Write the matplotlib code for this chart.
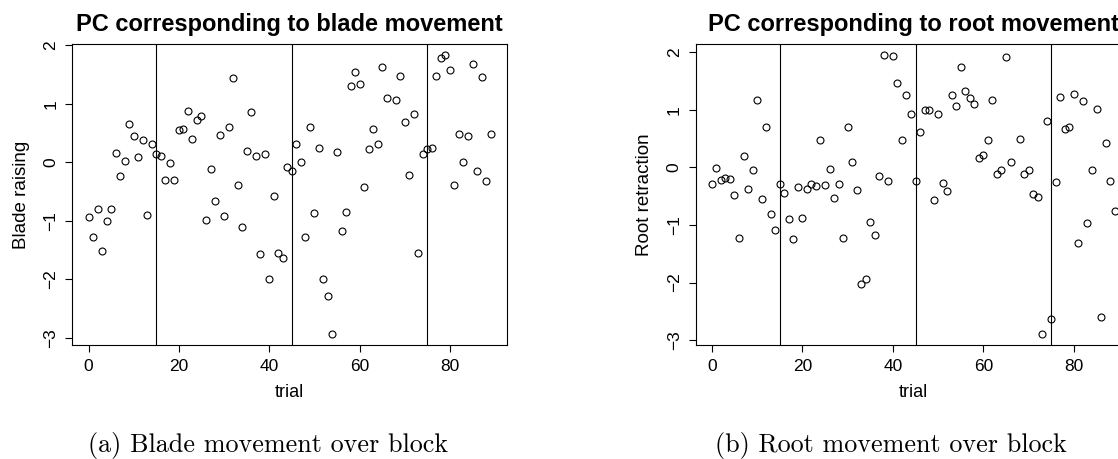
import numpy as np
import matplotlib.pyplot as plt

nan = np.nan

# PC scores per trial (trial 67 missing)
blade = [-0.93, -1.28, -0.80, -1.51, -1.00, -0.80, 0.16, -0.23, 0.02, 0.65,
         0.45, 0.09, 0.38, -0.90, 0.32, 0.14, 0.11, -0.31, -0.01, -0.30,
         0.55, 0.57, 0.87, 0.39, 0.72, 0.79, -0.98, -0.11, -0.66, 0.46,
         -0.92, 0.60, 1.44, -0.38, -1.10, 0.20, 0.86, 0.10, -1.57, 0.14,
         -1.99, -0.58, -1.55, -1.63, -0.08, -0.15, 0.32, 0.00, -1.28, 0.60,
         -0.86, 0.24, -2.00, -2.29, -2.93, 0.17, -1.18, -0.85, 1.30, 1.54,
         1.33, -0.43, 0.23, 0.57, 0.31, 1.62, 1.10, nan, 1.07, 1.47,
         0.69, -0.22, 0.82, -1.55, 0.14, 0.23, 0.24, 1.48, 1.78, 1.83,
         1.58, -0.39, 0.48, 0.00, 0.45, 1.67, -0.15, 1.46, -0.32, 0.49]

root = [-0.28, -0.01, -0.21, -0.18, -0.20, -0.48, -1.23, 0.20, -0.38, -0.05,
        1.17, -0.55, 0.71, -0.81, -1.08, -0.28, -0.44, -0.90, -1.25, -0.34,
        -0.88, -0.37, -0.29, -0.32, 0.47, -0.31, -0.02, -0.53, -0.29, -1.23,
        0.71, 0.09, -0.40, -2.02, -1.93, -0.95, -1.18, -0.15, 1.95, -0.23,
        1.93, 1.47, 0.47, 1.26, 0.92, -0.24, 0.62, 1.00, 1.00, -0.57,
        0.93, -0.27, -0.41, 1.26, 1.07, 1.75, 1.32, 1.21, 1.10, 0.16,
        0.22, 0.48, 1.17, -0.12, -0.05, 1.92, 0.09, nan, 0.49, -0.12,
        -0.04, -0.47, -0.52, -2.89, 0.80, -2.63, -0.25, 1.23, 0.66, 0.71,
        1.28, -1.31, 1.15, -0.97, -0.04, 1.01, -2.60, 0.42, -0.24, -0.75]

trial = np.arange(len(blade))
blocks = [15, 45, 75]   # block boundaries
yticks = [-3, -2, -1, 0, 1, 2]

plt.rcParams['font.family'] = ['Liberation Sans', 'DejaVu Sans']

fig = plt.figure(figsize=(11.18, 4.59), dpi=100)

def r_range(v):
    # R style axis range: data range padded 4% on each side
    lo, hi = np.nanmin(v), np.nanmax(v)
    d = (hi - lo) * 0.04
    return lo - d, hi + d

def panel(rect, y, title, ylab):
    ax = fig.add_axes(rect)
    ax.plot(trial, y, 'o', mfc='none', mec='black', ms=5, mew=0.8)
    for b in blocks:
        ax.axvline(b, color='black', lw=0.8)
    ax.set_xlim(r_range(trial))
    ax.set_ylim(r_range(y))
    ax.set_xticks([0, 20, 40, 60, 80])
    ax.set_yticks(yticks)
    ax.tick_params(length=5, width=0.8, pad=5, labelsize=12.5)
    ax.tick_params(axis='y', labelrotation=90)
    for lab in ax.get_yticklabels():
        lab.set_va('center')
    for s in ax.spines.values():
        s.set_linewidth(0.8)
    ax.set_title(title, fontsize=17, fontweight='bold', pad=9)
    ax.set_xlabel('trial', fontsize=13, va='center')
    ax.xaxis.set_label_coords(0.5, -0.159)
    ax.set_ylabel(ylab, fontsize=13.5, va='center')
    ax.yaxis.set_label_coords(-0.118, 0.5)
    return ax

panel([0.0648, 0.2484, 0.3884, 0.6558], blade,
      'PC corresponding to blade movement', 'Blade raising')
panel([0.6223, 0.2484, 0.3891, 0.6558], root,
      'PC corresponding to root movement', 'Root retraction')

# sub-figure captions
fig.text(267.7 / 1118, 7 / 459, '(a) Blade movement over block',
         family='cmr10', fontsize=18.8, ha='center', va='baseline')
fig.text(891.3 / 1118, 7 / 459, '(b) Root movement over block',
         family='cmr10', fontsize=18.8, ha='center', va='baseline')

fig.savefig('out.png', dpi=100)
